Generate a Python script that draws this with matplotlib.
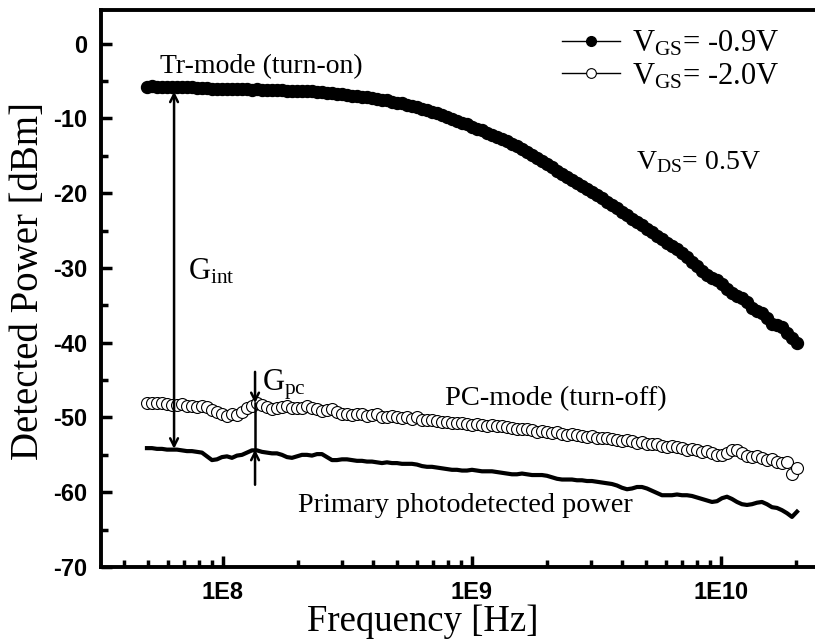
import numpy as np
import matplotlib
matplotlib.use("Agg")
import matplotlib.pyplot as plt
from matplotlib.ticker import LogLocator, NullFormatter, MultipleLocator
from matplotlib.lines import Line2D

plt.rcParams['mathtext.fontset'] = 'custom'
plt.rcParams['mathtext.rm'] = 'Liberation Serif'
plt.rcParams['mathtext.it'] = 'Liberation Serif:italic'
plt.rcParams['axes.unicode_minus'] = False

# ---- data ----
f_start, f_stop, n_pts = 4.95e7, 2.02e10, 131
freq = np.geomspace(f_start, f_stop, n_pts)

p_vgs_09 = [
    -5.75, -5.7, -5.75, -5.8, -5.8, -5.75, -5.8, -5.85, -5.8, -5.85,
    -5.9, -5.9, -5.95, -6.0, -6.0, -6.05, -6.0, -6.1, -6.1, -6.05,
    -6.1, -6.15, -6.1, -6.15, -6.2, -6.2, -6.25, -6.2, -6.3, -6.3,
    -6.3, -6.35, -6.4, -6.4, -6.45, -6.5, -6.6, -6.65, -6.7, -6.8,
    -6.85, -6.95, -7.0, -7.1, -7.2, -7.3, -7.4, -7.5, -7.6, -7.75,
    -7.9, -8.0, -8.2, -8.35, -8.5, -8.7, -8.9, -9.1, -9.3, -9.55,
    -9.8, -10.05, -10.3, -10.55, -10.8, -11.1, -11.35, -11.6, -11.9, -12.2,
    -12.45, -12.75, -13.05, -13.4, -13.7, -14.1, -14.5, -14.9, -15.3, -15.7,
    -16.1, -16.5, -17.0, -17.4, -17.8, -18.2, -18.6, -19.0, -19.45, -19.9,
    -20.3, -20.7, -21.15, -21.6, -22.0, -22.5, -22.9, -23.4, -23.9, -24.3,
    -24.8, -25.2, -25.7, -26.1, -26.6, -27.0, -27.5, -28.0, -28.6, -29.2,
    -29.8, -30.4, -31.0, -31.4, -31.6, -32.2, -32.8, -33.4, -33.8, -34.0,
    -34.6, -35.3, -35.8, -36.0, -36.7, -37.5, -37.6, -37.9, -38.7, -39.4,
    -40.0,
]

p_vgs_20 = [
    -48.0, -48.0, -48.1, -48.1, -48.2, -48.3, -48.3, -48.2, -48.4, -48.5,
    -48.6, -48.4, -48.6, -49.0, -49.3, -49.6, -49.8, -49.5, -49.7, -49.3,
    -48.8, -48.4, -48.1, -48.3, -48.6, -48.9, -48.7, -48.6, -48.4, -48.7,
    -48.8, -48.7, -48.5, -48.7, -48.9, -49.2, -49.0, -48.9, -49.3, -49.5,
    -49.6, -49.7, -49.5, -49.6, -49.8, -49.7, -49.6, -49.9, -50.0, -49.8,
    -49.9, -50.1, -50.0, -50.2, -50.0, -50.3, -50.4, -50.3, -50.5, -50.6,
    -50.6, -50.7, -50.8, -50.7, -50.9, -51.0, -50.9, -51.0, -51.1, -51.0,
    -51.2, -51.1, -51.3, -51.4, -51.5, -51.6, -51.5, -51.7, -51.9, -51.8,
    -52.0, -52.1, -52.0, -52.2, -52.3, -52.2, -52.4, -52.5, -52.6, -52.5,
    -52.7, -52.8, -52.7, -52.9, -53.0, -53.1, -53.0, -53.2, -53.4, -53.3,
    -53.5, -53.6, -53.5, -53.8, -53.9, -53.8, -54.0, -54.1, -54.3, -54.2,
    -54.4, -54.6, -54.5, -54.8, -55.0, -55.0, -54.7, -54.3, -54.4, -54.8,
    -55.1, -55.3, -55.1, -55.4, -55.7, -55.6, -55.9, -56.1, -56.0, -57.6,
    -56.8,
]

p_primary = [
    -54.1, -54.1, -54.2, -54.2, -54.3, -54.3, -54.3, -54.4, -54.5, -54.5,
    -54.6, -54.7, -55.2, -55.7, -55.6, -55.3, -55.2, -55.4, -55.1, -55.0,
    -54.7, -54.4, -54.4, -54.6, -54.7, -54.8, -54.8, -55.0, -55.3, -55.4,
    -55.2, -55.0, -55.0, -55.1, -54.9, -54.9, -55.3, -55.7, -55.7, -55.6,
    -55.6, -55.7, -55.8, -55.8, -55.9, -55.9, -56.0, -56.1, -56.0, -56.1,
    -56.1, -56.2, -56.2, -56.2, -56.3, -56.5, -56.6, -56.6, -56.7, -56.8,
    -56.9, -57.0, -57.0, -57.1, -57.1, -57.0, -57.1, -57.2, -57.2, -57.2,
    -57.3, -57.4, -57.5, -57.6, -57.6, -57.5, -57.6, -57.7, -57.7, -57.7,
    -57.8, -58.0, -58.2, -58.3, -58.3, -58.3, -58.4, -58.4, -58.5, -58.5,
    -58.6, -58.7, -58.8, -58.9, -59.1, -59.4, -59.6, -59.5, -59.3, -59.3,
    -59.5, -59.8, -60.1, -60.4, -60.4, -60.4, -60.3, -60.4, -60.4, -60.5,
    -60.7, -60.9, -61.1, -61.3, -61.2, -60.8, -60.6, -60.9, -61.3, -61.6,
    -61.7, -61.6, -61.4, -61.3, -61.6, -62.0, -62.1, -62.4, -62.8, -63.3,
    -62.6,
]

y_ticks = [0, -10, -20, -30, -40, -50, -60, -70]
x_ticks = [1e8, 1e9, 1e10]
x_tick_labels = ["1E8", "1E9", "1E10"]

# ---- figure ----
W, H = 815, 639
fig = plt.figure(figsize=(W / 100, H / 100), dpi=100)
L, R, B, T = 101, 830, 567, 10
ax = fig.add_axes([L / W, (H - B) / H, (R - L) / W, (B - T) / H])

serif = 'Liberation Serif'

ax.plot(freq, p_primary, color='black', lw=3.0, zorder=2)
ax.plot(freq, p_vgs_20, linestyle='none', marker='o', ms=8.6, mfc='white',
        mec='black', mew=0.8, zorder=3)
ax.plot(freq, p_vgs_09, linestyle='none', marker='o', ms=8.6, mfc='black',
        mec='black', zorder=4)

ax.set_xscale('log')
ax.set_xlim(10 ** 7.51, 10 ** 10.438)
ax.set_ylim(-70, 4.5)

ax.set_xticks(x_ticks)
ax.set_xticklabels(x_tick_labels)
ax.xaxis.set_minor_locator(LogLocator(base=10, subs=np.arange(2, 10)))
ax.xaxis.set_minor_formatter(NullFormatter())
ax.set_yticks(y_ticks)
ax.yaxis.set_minor_locator(MultipleLocator(5))

ax.spines['right'].set_visible(False)
for sp in ax.spines.values():
    sp.set_linewidth(2.8)
ax.tick_params(which='major', direction='in', length=8, width=2.5,
               labelsize=17)
ax.tick_params(which='minor', direction='in', length=5, width=2.5)
ax.tick_params(axis='x', which='major', pad=10)
ax.tick_params(axis='y', which='major', pad=10)
for lab in ax.get_xticklabels() + ax.get_yticklabels():
    lab.set_fontweight('bold')
    lab.set_family('Liberation Sans')

ax.set_xlabel('Frequency [Hz]', fontsize=26.5, family=serif)
ax.xaxis.set_label_coords((423 - L) / (R - L), -(622 - B) / (B - T), transform=ax.transAxes)
ax.xaxis.label.set_va('center')
ax.set_ylabel('Detected Power [dBm]', fontsize=28, family=serif)
ax.yaxis.set_label_coords(-(L - 29) / (R - L), (B - 281) / (B - T), transform=ax.transAxes)
ax.yaxis.label.set_va('center')

# legend
h1 = Line2D([], [], color='black', lw=1.0, marker='o', ms=7, mfc='black', mec='black')
h2 = Line2D([], [], color='black', lw=1.0, marker='o', ms=7, mfc='white', mec='black', mew=0.8)
leg = ax.legend([h1, h2], [r'V$_{\mathrm{GS}}$= -0.9V', r'V$_{\mathrm{GS}}$= -2.0V'],
                loc='upper left', bbox_to_anchor=((562 - L) / (R - L), (B - 29) / (B - T)),
                frameon=False, prop={'family': serif, 'size': 22},
                handlelength=1.9, handletextpad=0.4, labelspacing=0.1,
                borderaxespad=0, borderpad=0)

# annotations
ax.text(5.59e7, -3.1, 'Tr-mode (turn-on)', family=serif, fontsize=20, ha='left', va='center')
ax.text(7.8e8, -47.5, 'PC-mode (turn-off)', family=serif, fontsize=20.5, ha='left', va='center')
ax.text(2.0e8, -61.8, 'Primary photodetected power', family=serif, fontsize=20.3, ha='left', va='center')
ax.text(4.56e9, -15.8, r'V$_{\mathrm{DS}}$= 0.5V', family=serif, fontsize=20, ha='left', va='center')
ax.text(7.23e7, -30.5, r'G$_{\mathrm{int}}$', family=serif, fontsize=22, ha='left', va='center')
ax.text(1.435e8, -45.6, r'G$_{\mathrm{pc}}$', family=serif, fontsize=22, ha='left', va='center')

aprops = dict(arrowstyle='<->', color='black', lw=1.8, shrinkA=0, shrinkB=0,
              mutation_scale=14)
f_gint = 6.36e7
ax.annotate('', xy=(f_gint, -6.4), xytext=(f_gint, -54.2), arrowprops=aprops)
f_gpc = 1.345e8
one = dict(arrowstyle='->', color='black', lw=1.8, shrinkA=0, shrinkB=0, mutation_scale=14)
ax.annotate('', xy=(f_gpc, -48.1), xytext=(f_gpc, -43.9), arrowprops=one)
ax.plot([f_gpc, f_gpc], [-48.1, -54.3], color='black', lw=1.8, zorder=5)
ax.annotate('', xy=(f_gpc, -54.3), xytext=(f_gpc, -59.0), arrowprops=one)

fig.savefig('out.png', dpi=100)
